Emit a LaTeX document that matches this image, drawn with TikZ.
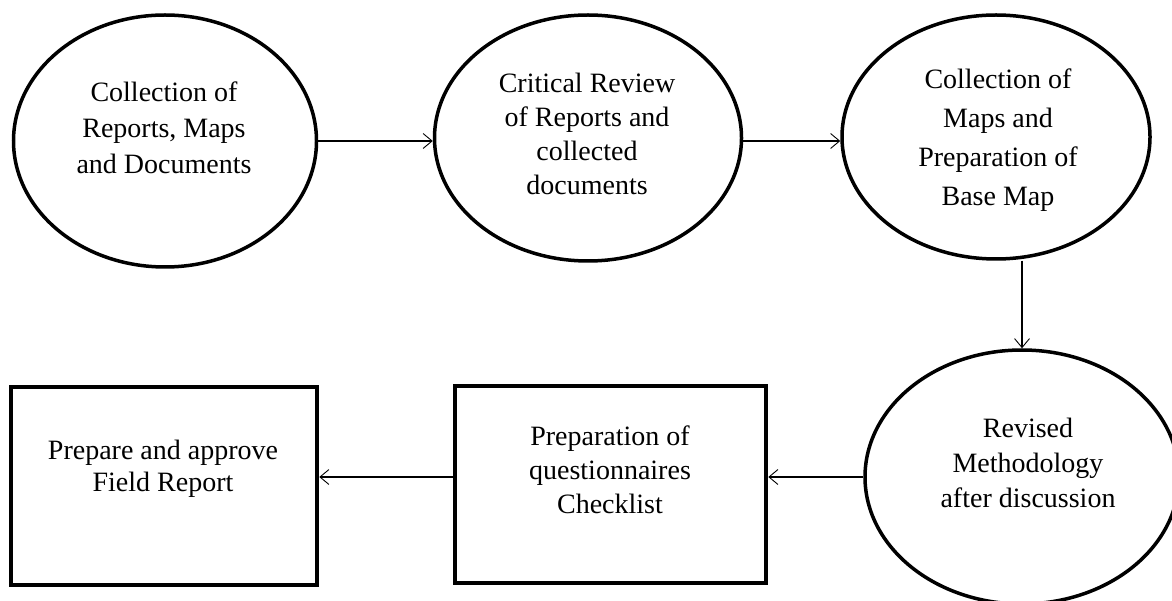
\documentclass[tikz,border=0pt]{standalone}
\usepackage{fontspec}
\setmainfont{Liberation Serif}
\usetikzlibrary{shapes.geometric,arrows.meta}
\begin{document}
\begin{tikzpicture}[x=1pt,y=-1pt,
  ell/.style={draw, ellipse, line width=3.5pt, inner sep=0pt},
  box/.style={draw, rectangle, line width=4.5pt, inner sep=0pt},
  lbl/.style={align=center, inner sep=0pt},
  arr/.style={line width=1.3pt, -{Straight Barb[length=9pt,width=15pt,line width=0.9pt]}}]
\useasboundingbox (0,0) rectangle (1172,601);
% shapes
\node[ell, minimum width=303pt, minimum height=252pt] (E1) at (165,141) {};
\node[ell, minimum width=307pt, minimum height=246pt] (E2) at (588,138) {};
\node[ell, minimum width=308pt, minimum height=244pt] (E3) at (996,137) {};
\node[ell, minimum width=314pt, minimum height=254pt] (E4) at (1022,477) {};
\node[box, minimum width=306pt, minimum height=198pt] (R1) at (164,486) {};
\node[box, minimum width=311pt, minimum height=197pt] (R2) at (610.5,484.5) {};
% texts
\node[lbl, font=\fontsize{28}{36}\selectfont] (T1) at (164,128) {Collection of\\Reports, Maps\\and Documents};
\node[lbl, font=\fontsize{28}{34}\selectfont] (T2) at (587,134) {Critical Review\\of Reports and\\collected\\documents};
\node[lbl, font=\fontsize{28}{39}\selectfont] (T3) at (998,140) {Collection of\\Maps and\\Preparation of\\Base Map};
\node[lbl, font=\fontsize{28}{35}\selectfont] (T4) at (1028,463) {Revised\\Methodology\\after discussion};
\node[lbl, font=\fontsize{28}{34}\selectfont] (T5) at (610,470) {Preparation of\\questionnaires\\Checklist};
\node[lbl, font=\fontsize{28}{32}\selectfont] (T6) at (163,469) {Prepare and approve\\Field Report};
% connectors
\draw[arr] (E1.east) -- (E2.west |- E1.east);
\draw[arr] (E2.east |- E1.east) -- (E3.west |- E1.east);
\draw[arr] (E4.north |- E3.south) -- (E4.north);
\draw[arr] (E4.west) -- (R2.east |- E4.west);
\draw[arr] (R2.west |- E4.west) -- (R1.east |- E4.west);
\end{tikzpicture}
\end{document}
